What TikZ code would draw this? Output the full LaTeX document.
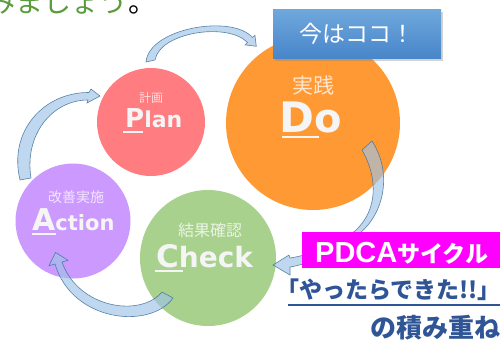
\documentclass[tikz,border=0pt]{standalone}
\usepackage{fontspec}
\setmainfont{DejaVu Sans}
\newfontfamily\jpfont{Noto Sans CJK JP}
\newfontfamily\arialfont{Liberation Sans}
\usepackage{xcolor}
\usepackage{tikz}
\usetikzlibrary{shadows,calc}

\definecolor{planpink}{HTML}{FF7C80}
\definecolor{doorange}{HTML}{FF9933}
\definecolor{actpurple}{HTML}{CC99FF}
\definecolor{chkgreen}{HTML}{A9D18E}
\definecolor{arrowblue}{HTML}{9DC3E6}
\definecolor{arrowedge}{HTML}{41719C}
\definecolor{nowtop}{HTML}{6FA8DC}
\definecolor{nowbottom}{HTML}{4886CA}
\definecolor{cyclemagenta}{HTML}{FF00FF}
\definecolor{slogannavy}{HTML}{2F5597}
\definecolor{leafgreen}{HTML}{5B9B3C}

\newcommand{\fsz}[1]{\fontsize{#1}{#1}\selectfont}

\begin{document}
\begin{tikzpicture}[x=1pt,y=-1pt,
  stage/.style={circle,inner sep=0pt,minimum size=#1},
  sublabel/.style={font=\jpfont,text=white,text opacity=0.75,inner sep=0pt},
  bigword/.style={font=\bfseries,text=white!96!black,inner sep=0pt,anchor=base west},
  initline/.style={white!96!black,line width=2.2pt},
  flow/.style={fill=arrowblue,fill opacity=0.65,draw=arrowedge,draw opacity=0.85,line width=0.6pt},
  nowbox/.style={minimum width=168pt,minimum height=49pt,inner sep=0pt,top color=nowtop,bottom color=nowbottom,
    text=white,font=\jpfont\fsz{23},drop shadow={shadow xshift=2pt,shadow yshift=-3pt,opacity=0.35}},
  cyclebox/.style={fill=cyclemagenta,anchor=west,minimum height=36pt,inner ysep=0pt,inner xsep=13pt,
    text width=185pt,align=left,text height=24pt,text depth=0pt,text=white},
  slogan/.style={font=\jpfont\bfseries,text=slogannavy,inner sep=0pt,anchor=base west},
  sloganline/.style={slogannavy,line width=2pt}]

\useasboundingbox (0,0) rectangle (500,341);
\clip (0,0) rectangle (500,341);

% Heading, cut off at the top
\node[font=\jpfont,inner sep=0pt,anchor=base east] (heading) at (128,12) {\fsz{28}\textcolor{leafgreen}{みましょう}};
\node[font=\jpfont,inner sep=0pt,anchor=base west] (stop) at (heading.base east) {\fsz{28}。};

% Stages
\node[stage=108pt,fill=planpink] (plan) at (151,122) {};
\node[stage=174pt,fill=doorange] (do) at (313,123) {};
\node[stage=115pt,fill=actpurple] (act) at (73,221) {};
\node[stage=136pt,fill=chkgreen] (check) at (208,258) {};

% Flow arrows
\draw[flow] (146,62) .. controls (149,28) and (232,14) .. (252.5,37.5) -- (254.9,35.1) -- (256.3,46.3)
  -- (245.1,44.9) -- (247.5,42.5) .. controls (228,22) and (160,32) .. (155,60) -- cycle;
\draw[flow] (20,180) .. controls (8,130) and (45,92) .. (89,92.5) -- (91,89) -- (100,96)
  -- (87,103) -- (88,100) .. controls (52,100) and (24,135) .. (31,178) -- cycle;
\draw[flow] (173,298) .. controls (150,330) and (72,322) .. (55,264) -- (49,265.7) -- (55.5,252.4)
  -- (68,260.3) -- (62,262) .. controls (78,308) and (140,318) .. (162,292) -- cycle;
\draw[flow] (372,141) .. controls (392,172) and (385,212) .. (360,233) .. controls (340,250) and (310,264) .. (290,267)
  -- (290,275) -- (273,265) -- (289,255) -- (290,258) .. controls (310,255) and (335,245) .. (355,231)
  .. controls (378,210) and (378,178) .. (362,150) -- cycle;

% Japanese labels
\node[sublabel] (plansub) at (151,98) {\fsz{12}計画};
\node[sublabel] (dosub) at (313,86) {\fsz{21}実践};
\node[sublabel] (actsub) at (76,197) {\fsz{14}改善実施};
\node[sublabel] (checksub) at (210,230) {\fsz{16}結果確認};

% Words with underlined initials
\node[bigword] (planword) at (125,127) {\fsz{26}P\fsz{22}lan};
\draw[initline] ($(planword.base west)+(-2,5)$) -- ++(20,0);
\node[bigword] (doword) at (279,132) {\fsz{42}D\fsz{40}o};
\draw[initline] ($(doword.base west)+(3,5)$) -- ++(37,0);
\node[bigword] (actword) at (32,230) {\fsz{30}A\fsz{21}ction};
\draw[initline] ($(actword.base west)+(0,4)$) -- ++(24,0);
\node[bigword] (checkword) at (156,267) {\fsz{31}C\fsz{28}heck};
\draw[initline] ($(checkword.base west)+(-1,4)$) -- ++(28,0);

% Current step
\node[nowbox] (now) at (357,33.5) {今はココ！};

% Cycle caption
\node[cyclebox] (cycle) at (302,250) {{\arialfont\bfseries\fsz{29}PDCA}{\jpfont\bfseries\fsz{23}サイクル}};
\node[slogan] (yatta) at (276,298.5) {\fsz{23}「やったらできた!!」};
\draw[sloganline] ($(yatta.base west)+(12,6)$) -- ++(230,0);
\node[slogan] (tsumi) at (370,337.5) {\fsz{26}の積み重ね};

\end{tikzpicture}
\end{document}
